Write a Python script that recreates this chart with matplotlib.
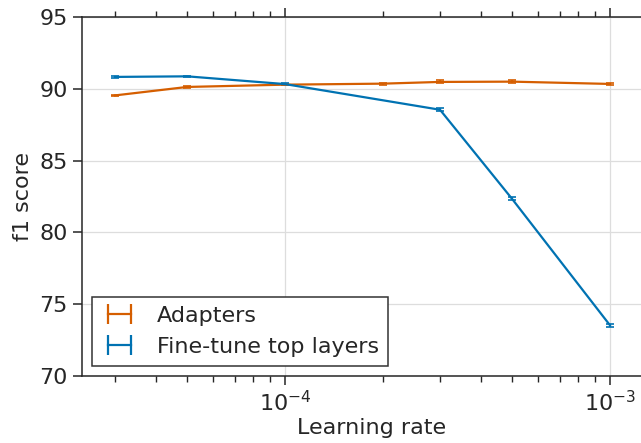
import numpy as np
import matplotlib
matplotlib.use("Agg")
import matplotlib.pyplot as plt
from matplotlib.lines import Line2D

# values
lr_adapters = [3e-5, 5e-5, 1e-4, 2e-4, 3e-4, 5e-4, 1e-3]
f1_adapters = [89.55, 90.14, 90.30, 90.37, 90.49, 90.51, 90.35]
err_adapters = [0.05, 0.10, 0.05, 0.06, 0.10, 0.12, 0.05]

lr_finetune = [3e-5, 5e-5, 1e-4, 3e-4, 5e-4, 1e-3]
f1_finetune = [90.84, 90.88, 90.34, 88.55, 82.33, 73.52]
err_finetune = [0.06, 0.04, 0.05, 0.12, 0.10, 0.10]

orange = "#d55e00"
blue = "#0072b2"
dark = "#262626"

plt.rcParams["font.family"] = "DejaVu Sans"
plt.rcParams["font.size"] = 16
plt.rcParams["text.color"] = dark
plt.rcParams["axes.labelcolor"] = dark
plt.rcParams["xtick.color"] = dark
plt.rcParams["ytick.color"] = dark

fig = plt.figure(figsize=(6.41, 4.43), dpi=100)
# right edge of the axes sits off the canvas, as in the reference
ax = fig.add_axes([0.1287, 0.152, 0.9009, 0.809])

ax.errorbar(lr_adapters, f1_adapters, yerr=err_adapters, color=orange,
            lw=1.6, capsize=3, capthick=1.2, elinewidth=1.2, zorder=3)
ax.errorbar(lr_finetune, f1_finetune, yerr=err_finetune, color=blue,
            lw=1.6, capsize=3, capthick=1.2, elinewidth=1.2, zorder=3)

ax.set_xscale("log")
ax.set_xlim(10 ** -4.623, 10 ** -2.846)
ax.set_ylim(70, 95)
ax.set_yticks([70, 75, 80, 85, 90, 95])

ax.grid(True, which="major", color="#dddddd", lw=0.9, zorder=0)
ax.set_axisbelow(True)

for s in ["left", "bottom", "top", "right"]:
    ax.spines[s].set_color(dark)
    ax.spines[s].set_linewidth(1.1)

ax.tick_params(which="major", direction="out", length=6.5, width=1.1,
               top=True, labelsize=16, pad=4)
ax.tick_params(which="minor", direction="out", length=4, width=1,
               top=True)

ax.set_xlabel("Learning rate", fontsize=16, labelpad=2)
ax.set_ylabel("f1 score", fontsize=16, labelpad=5)

handles = [
    Line2D([], [], color=orange, lw=1.6, marker="|", markersize=15, markeredgewidth=1.6),
    Line2D([], [], color=blue, lw=1.6, marker="|", markersize=15, markeredgewidth=1.6),
]
leg = ax.legend(handles, ["Adapters", "Fine-tune top layers"], loc="lower left",
                numpoints=2, fancybox=False, framealpha=1, fontsize=16,
                handlelength=1.65, borderaxespad=0.45, borderpad=0.4,
                labelspacing=0.5, handletextpad=0.85)
leg.get_frame().set_edgecolor("#333333")
leg.get_frame().set_linewidth(1.1)

fig.savefig("out.png", dpi=100)
